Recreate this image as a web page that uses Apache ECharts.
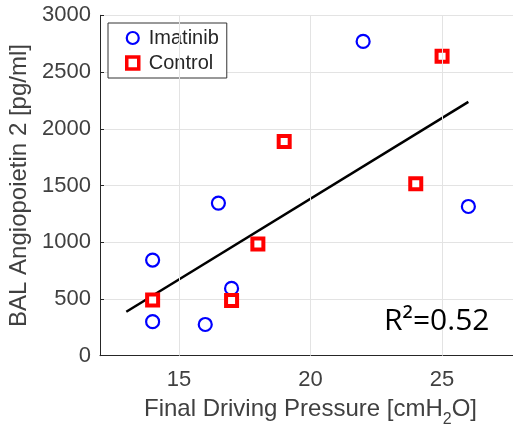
<!DOCTYPE html>
<html>
<head>
<meta charset="utf-8">
<script src="https://cdn.jsdelivr.net/npm/echarts@6/dist/echarts.min.js"></script>
<style>html,body{margin:0;padding:0;background:#fff}#c{width:513px;height:430px}</style>
</head>
<body>
<div id="c"></div>
<script>
// Data
const imatinibX = [22, 26, 16.5, 14, 17, 14, 16];
const imatinibY = [2770, 1315, 1345, 843, 593, 300, 275];
const controlX = [14, 17, 18, 19, 24, 25];
const controlY = [490, 487, 985, 1888, 1515, 2640];
const fitX = [13, 26];
const fitY = [387, 2237];
const xTicks = [15, 20, 25];
const annotation = 'R²=0.52';

const zip = (xs, ys) => xs.map((x, i) => [x, ys[i]]);
const chart = echarts.init(document.getElementById('c'));
const axisCol = '#262626';
const labCol = '#404040';
const gridCol = '#e3e3e3';
chart.setOption({
  animation: false,
  grid: { left: 100, top: 15.3, bottom: 74.3, right: -8, containLabel: false, outerBoundsMode: 'none' },
  xAxis: {
    type: 'value', min: 12, max: 28,
    axisLine: { show: true, onZero: false, lineStyle: { color: axisCol, width: 1 } },
    axisTick: { show: true, inside: true, length: 4, customValues: xTicks, lineStyle: { color: axisCol } },
    axisLabel: { customValues: xTicks, color: labCol, fontSize: 22, fontFamily: 'Liberation Sans', margin: 13 },
    splitLine: { show: false },
    name: '{a|Final Driving Pressure [cmH}{s|2}{a|O]}',
    nameLocation: 'middle', nameGap: 36,
    nameTextStyle: {
      rich: {
        a: { color: labCol, fontSize: 24, fontFamily: 'Liberation Sans' },
        s: { color: labCol, fontSize: 16, fontFamily: 'Liberation Sans', padding: [20, 0, 0, 0] }
      }
    }
  },
  yAxis: {
    type: 'value', min: 0, max: 3000, interval: 500,
    axisLine: { show: true, lineStyle: { color: axisCol, width: 1 } },
    axisTick: { show: true, inside: true, length: 4, lineStyle: { color: axisCol } },
    axisLabel: { color: labCol, fontSize: 22, fontFamily: 'Liberation Sans', margin: 9, formatter: v => String(v) },
    splitLine: { show: true, lineStyle: { color: gridCol, width: 1 } },
    name: 'BAL Angiopoietin 2 [pg/ml]',
    nameLocation: 'middle', nameGap: 66,
    nameTextStyle: { color: labCol, fontSize: 24, fontFamily: 'Liberation Sans' }
  },
  legend: {
    left: 108, top: 23, orient: 'vertical',
    data: [
      { name: 'Imatinib', itemStyle: { borderWidth: 2.2 } },
      { name: 'Control', itemStyle: { borderWidth: 3.5 } }
    ],
    backgroundColor: '#fff', borderColor: '#333', borderWidth: 1,
    padding: [5, 8, 5, 17], itemGap: 5, itemWidth: 12, itemHeight: 12,
    textStyle: { color: axisCol, fontSize: 20, fontFamily: 'Liberation Sans', padding: [0, 0, 0, 5] }
  },
  series: [
    {
      name: 'grid', type: 'scatter', data: [], z: 0, silent: true,
      markLine: {
        silent: true, symbol: 'none', animation: false,
        label: { show: false },
        lineStyle: { color: gridCol, width: 1, type: 'solid' },
        data: xTicks.map(v => ({ xAxis: v }))
      }
    },
    {
      name: 'fit', type: 'line', data: zip(fitX, fitY), showSymbol: false, symbol: 'none',
      lineStyle: { color: '#000', width: 2.5 }, z: 2, silent: true
    },
    {
      name: 'Imatinib', type: 'scatter', data: zip(imatinibX, imatinibY),
      symbol: 'circle', symbolSize: 13,
      itemStyle: { color: '#fff', borderColor: '#0000ff', borderWidth: 2.2, opacity: 1 }, z: 3
    },
    {
      name: 'Control', type: 'scatter', data: zip(controlX, controlY),
      symbol: 'rect', symbolSize: 11,
      itemStyle: { color: '#fff', borderColor: '#ff0000', borderWidth: 4, opacity: 1 }, z: 4
    }
  ],
  graphic: [{
    type: 'text', left: 384, top: 306, z: 10,
    style: { text: annotation, fontSize: 30, fontFamily: 'Open Sans', fill: '#000' }
  }]
});
</script>
</body>
</html>
